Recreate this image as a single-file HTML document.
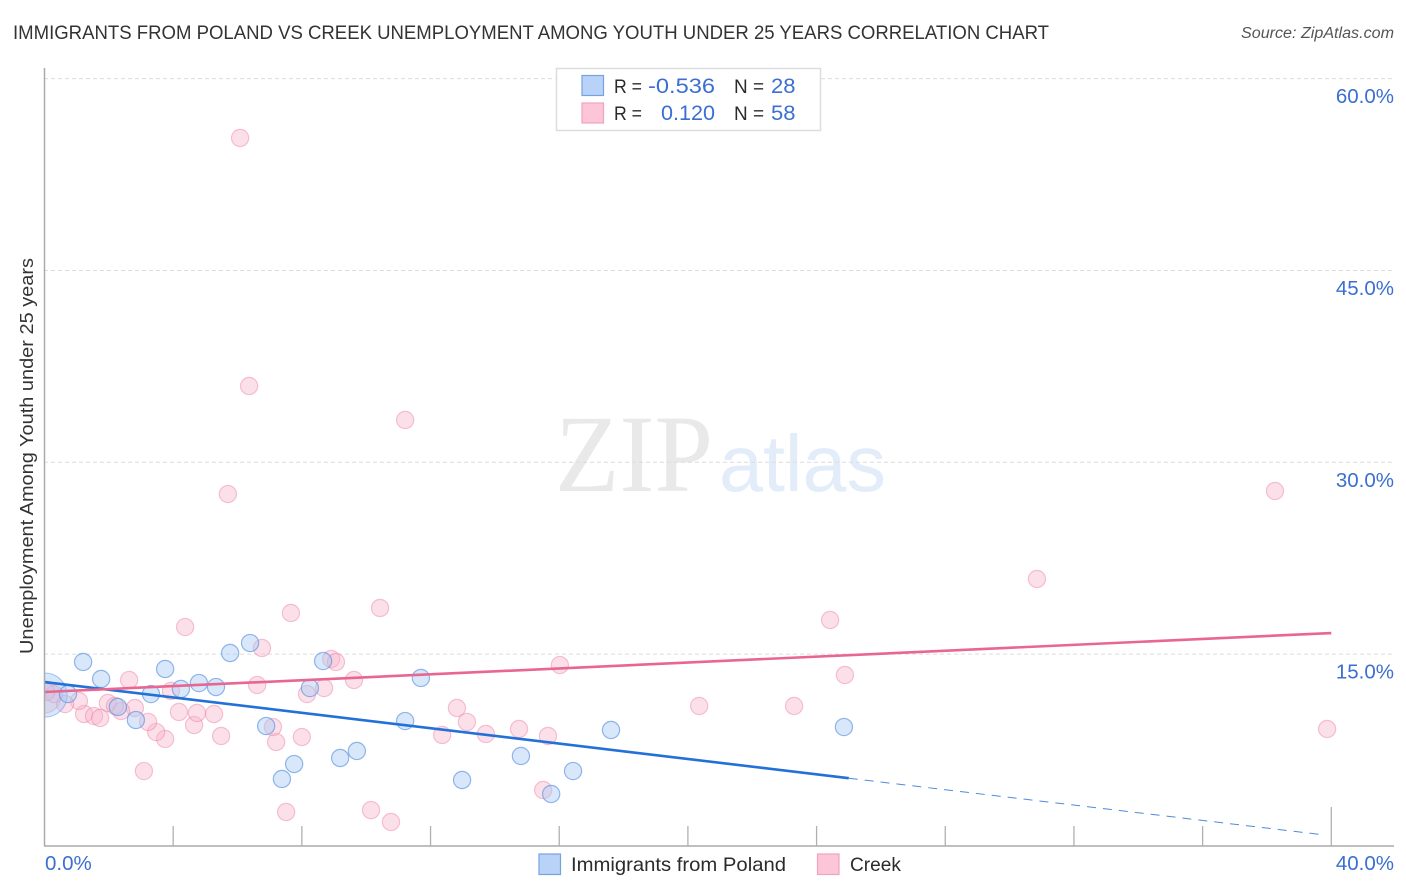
<!DOCTYPE html>
<html lang="en">
<head>
<meta charset="utf-8">
<title>Immigrants from Poland vs Creek Unemployment Chart</title>
<style>
html,body{margin:0;padding:0;background:#fff;width:1406px;height:892px;overflow:hidden}
svg{display:block;font-family:"Liberation Sans",sans-serif}
</style>
</head>
<body>
<svg id="chart" width="1406" height="892" viewBox="0 0 1406 892" xmlns="http://www.w3.org/2000/svg">
  <defs><clipPath id="plot-clip"><rect x="44" y="60" width="1350" height="786"/></clipPath></defs>
  <text x="13" y="39" font-size="19.5" fill="#333" textLength="1036" lengthAdjust="spacingAndGlyphs">IMMIGRANTS FROM POLAND VS CREEK UNEMPLOYMENT AMONG YOUTH UNDER 25 YEARS CORRELATION CHART</text>
  <text x="1241" y="38" font-size="15.5" font-style="italic" fill="#555" textLength="153" lengthAdjust="spacingAndGlyphs">Source: ZipAtlas.com</text>

  <g>
    <text x="555" y="491" font-family="'Liberation Serif',serif" font-size="110" fill="#e9e9e9" textLength="158" lengthAdjust="spacingAndGlyphs">ZIP</text>
    <text x="719" y="491" font-size="80" fill="#e3ecf9" textLength="167" lengthAdjust="spacingAndGlyphs">atlas</text>
  </g>

  <g id="grid"></g>
  <g id="points" clip-path="url(#plot-clip)"></g>
  <g id="trends"></g>

  <line x1="44.5" y1="68" x2="44.5" y2="846" stroke="#aaa" stroke-width="1.5"/>
  <line x1="44" y1="846" x2="1394" y2="846" stroke="#aaa" stroke-width="1.5"/>
  <g id="xticks"></g>
  <g id="ylabels"></g>

  <text x="45" y="870" font-size="20.5" fill="#3b6fd1">0.0%</text>
  <text x="1394" y="870" font-size="20.5" fill="#3b6fd1" text-anchor="end">40.0%</text>
  <text transform="translate(33,654) rotate(-90)" font-size="18.5" fill="#333" textLength="396" lengthAdjust="spacingAndGlyphs">Unemployment Among Youth under 25 years</text>

  <g>
    <rect x="556.5" y="68.5" width="264" height="62" fill="#fff" stroke="#ddd" stroke-width="1.5"/>
    <rect x="582" y="75.500" width="21.500" height="20" fill="#b9d3f8" stroke="#74a3e2" stroke-width="1.200"/>
    <rect x="582" y="103" width="21.500" height="20" fill="#fcc6d8" stroke="#f0a3bc" stroke-width="1.200"/>
    <text x="614" y="93" font-size="19.5" fill="#2b2b2b" textLength="28" lengthAdjust="spacingAndGlyphs">R =</text>
    <text x="648" y="93" font-size="21.5" fill="#3b6fd1" textLength="67" lengthAdjust="spacingAndGlyphs">-0.536</text>
    <text x="734" y="93" font-size="19.5" fill="#2b2b2b" textLength="30" lengthAdjust="spacingAndGlyphs">N =</text>
    <text x="771" y="93" font-size="21.5" fill="#3b6fd1" textLength="24.5" lengthAdjust="spacingAndGlyphs">28</text>
    <text x="614" y="120" font-size="19.5" fill="#2b2b2b" textLength="28" lengthAdjust="spacingAndGlyphs">R =</text>
    <text x="661" y="120" font-size="21.5" fill="#3b6fd1" textLength="54" lengthAdjust="spacingAndGlyphs">0.120</text>
    <text x="734" y="120" font-size="19.5" fill="#2b2b2b" textLength="30" lengthAdjust="spacingAndGlyphs">N =</text>
    <text x="771" y="120" font-size="21.5" fill="#3b6fd1" textLength="24.5" lengthAdjust="spacingAndGlyphs">58</text>
  </g>

  <g>
    <rect x="539" y="854" width="21.500" height="20.500" fill="#b9d3f8" stroke="#74a3e2" stroke-width="1.200"/>
    <text x="571" y="871" font-size="19.500" fill="#2b2b2b" textLength="215" lengthAdjust="spacingAndGlyphs">Immigrants from Poland</text>
    <rect x="817.500" y="854" width="21.500" height="20.500" fill="#fcc6d8" stroke="#f0a3bc" stroke-width="1.200"/>
    <text x="850" y="871" font-size="19.500" fill="#2b2b2b" textLength="51" lengthAdjust="spacingAndGlyphs">Creek</text>
  </g>
</svg>
<script>
const polandX = [0.02,1.20,1.76,0.73,2.28,2.84,3.31,3.75,4.24,4.80,5.33,5.77,6.39,6.89,7.76,7.38,8.66,8.25,9.19,9.71,11.21,11.70,12.98,14.81,15.75,16.43,17.61,24.85];
const polandY = [11.80,14.39,13.06,11.88,10.87,9.85,11.88,13.84,12.28,12.74,12.43,15.09,15.87,9.38,6.41,5.24,14.46,12.35,6.88,7.43,9.77,13.14,5.16,7.04,4.07,5.86,9.07,9.30];
const creekX = [0.00,6.08,6.36,11.21,5.70,38.25,30.85,10.43,7.66,4.37,24.42,6.76,8.91,9.06,16.02,24.88,2.63,3.93,6.61,8.69,8.16,9.62,20.35,23.30,39.87,12.82,13.13,14.75,13.72,12.36,15.65,7.20,8.00,7.10,5.49,4.65,3.75,3.47,3.22,5.27,4.74,4.18,2.81,2.38,1.97,1.23,1.54,1.73,1.07,0.64,0.30,0.05,3.09,7.51,10.15,10.77,15.50,2.19];
const creekY = [11.65,55.36,35.97,33.31,27.52,27.76,20.88,18.61,18.22,17.12,17.67,15.48,14.62,14.39,14.15,13.37,12.98,12.12,12.59,12.35,11.88,12.98,10.95,10.95,9.15,10.79,9.70,9.15,8.76,8.68,8.60,8.13,8.52,9.30,8.60,9.46,8.37,8.91,9.70,10.32,10.40,10.48,10.79,10.56,11.18,10.32,10.16,10.01,11.34,11.10,11.88,12.04,5.86,2.66,2.81,1.88,4.38,10.95];
const yTickValues = [15,30,45,60];
const yTickLabels = ["15.0%","30.0%","45.0%","60.0%"];
const xTickValues = [4,8,12,16,20,24,28,32,36,40];
const polandTrendX = [0,25];
const polandTrendY = [12.82,5.30];
const polandForecastX = [25,39.8];
const polandForecastY = [5.30,0.86];
const creekTrendX = [0,40];
const creekTrendY = [12.04,16.65];

const NS = 'http://www.w3.org/2000/svg';
const sx = v => 44.5 + v * 32.17;
const sy = v => 846 - v * 12.79;

function make(tag, attrs, parent) {
  const el = document.createElementNS(NS, tag);
  for (const k in attrs) el.setAttribute(k, attrs[k]);
  parent.appendChild(el);
  return el;
}

const grid = document.getElementById('grid');
const ylabels = document.getElementById('ylabels');
yTickValues.forEach((v, i) => {
  const line = make('line', {x1: 44, x2: 1394, y1: sy(v), y2: sy(v), stroke: '#dcdcdc', 'stroke-width': 1, 'stroke-dasharray': '4 3'}, grid);
  
  
  const t = make('text', {x: 1394, y: sy(v) + 24.5, 'font-size': 20.5, fill: '#3b6fd1', 'text-anchor': 'end'}, ylabels);
  t.textContent = yTickLabels[i];
  
  
});

const xticks = document.getElementById('xticks');
xTickValues.forEach((v, i) => {
  const top = i === xTickValues.length - 1 ? 807 : 826;
  const tick = make('line', {x1: sx(v), x2: sx(v), y1: top, y2: 846, stroke: '#b0b0b0', 'stroke-width': 1.3}, xticks);
  
  
});

const points = document.getElementById('points');
creekX.forEach((v, i) => {
  const c = make('circle', {cx: sx(v), cy: sy(creekY[i]), r: i === 0 ? 16 : 8.6, fill: '#f8b4ca', 'fill-opacity': 0.42, stroke: '#ea7fa2', 'stroke-opacity': 0.45, 'stroke-width': 1.2}, points);
  
  
});
polandX.forEach((v, i) => {
  const c = make('circle', {cx: sx(v), cy: sy(polandY[i]), r: i === 0 ? 22 : 8.6, fill: '#a9c9f5', 'fill-opacity': 0.45, stroke: '#4f8ade', 'stroke-opacity': i === 0 ? 0.4 : 0.6, 'stroke-width': 1.2}, points);
  
  
});

const trends = document.getElementById('trends');
const blueTrend = make('line', {x1: sx(polandTrendX[0]), y1: sy(polandTrendY[0]), x2: sx(polandTrendX[1]), y2: sy(polandTrendY[1]), stroke: '#2270d8', 'stroke-width': 2.6}, trends);


const blueForecast = make('line', {x1: sx(polandForecastX[0]), y1: sy(polandForecastY[0]), x2: sx(polandForecastX[1]), y2: sy(polandForecastY[1]), stroke: '#4f8ade', 'stroke-width': 1, 'stroke-dasharray': '9 7'}, trends);


const pinkTrend = make('line', {x1: sx(creekTrendX[0]), y1: sy(creekTrendY[0]), x2: sx(creekTrendX[1]), y2: sy(creekTrendY[1]), stroke: '#e8668f', 'stroke-width': 2.6}, trends);


</script>
</body>
</html>
